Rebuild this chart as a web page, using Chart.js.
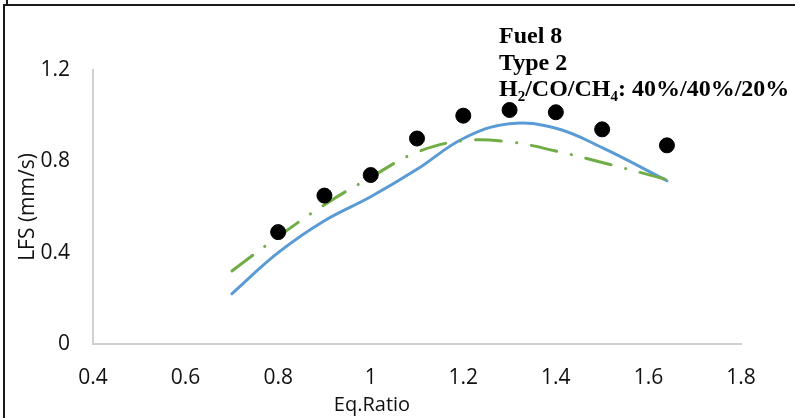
<!DOCTYPE html>
<html>
<head>
<meta charset="utf-8">
<script src="https://cdn.jsdelivr.net/npm/chart.js@4.4.1/dist/chart.umd.min.js"></script>
<style>
  html, body { margin: 0; padding: 0; background: #fff; }
  #wrap { width: 795px; height: 418px; position: relative; }
</style>
</head>
<body>
<div id="wrap"><canvas id="c" width="795" height="418"></canvas></div>
<script>
// ---- data ----
const eqRatioExp = [0.8, 0.9, 1.0, 1.1, 1.2, 1.3, 1.4, 1.5, 1.64];
const lfsExp     = [0.49, 0.65, 0.74, 0.90, 1.00, 1.025, 1.015, 0.94, 0.87];

const eqRatioModel = [0.7, 0.8, 0.9, 1.0, 1.1, 1.2, 1.3, 1.4, 1.5, 1.64];
const lfsModelBlue  = [0.22, 0.40, 0.54, 0.645, 0.765, 0.90, 0.965, 0.945, 0.86, 0.715];
const lfsModelGreen = [0.32, 0.47, 0.61, 0.73, 0.84, 0.89, 0.885, 0.845, 0.795, 0.72];

const xTicks = [0.4, 0.6, 0.8, 1, 1.2, 1.4, 1.6, 1.8];
const yTicks = [0, 0.4, 0.8, 1.2];

const xTitle = 'Eq.Ratio';
const yTitle = 'LFS (mm/s)';

const annotationLines = [
  [{t: 'Fuel 8'}],
  [{t: 'Type 2'}],
  [{t: 'H'}, {t: '2', sub: true}, {t: '/CO/CH'}, {t: '4', sub: true}, {t: ': 40%/40%/20%'}]
];

const toPts = (xs, ys) => xs.map((x, i) => ({x: x, y: ys[i]}));
const sansFamily = '"Open Sans", "Noto Sans", sans-serif';

const frameAndText = {
  id: 'frameAndText',
  afterDraw(chart) {
    const ctx = chart.ctx;
    ctx.save();
    // outer frame (left and top edges visible)
    ctx.strokeStyle = '#1a1a1a';
    ctx.lineWidth = 2;
    ctx.beginPath();
    ctx.moveTo(4, 418);
    ctx.lineTo(4, 5);
    ctx.lineTo(795, 5);
    ctx.stroke();
    ctx.beginPath();
    ctx.moveTo(7, 0);
    ctx.lineTo(7, 4);
    ctx.stroke();
    // x-axis title (placed off-centre as in the reference)
    ctx.fillStyle = '#111';
    ctx.font = '20px ' + sansFamily;
    ctx.textAlign = 'center';
    ctx.textBaseline = 'middle';
    ctx.fillText(xTitle, 372, 405);
    // annotation text
    ctx.fillStyle = '#000';
    ctx.textAlign = 'left';
    ctx.textBaseline = 'alphabetic';
    const baseSize = 24;
    const x0 = 499;
    const baselines = [43, 70, 96];
    annotationLines.forEach((segs, li) => {
      let x = x0;
      segs.forEach(s => {
        const size = s.sub ? 15 : baseSize;
        ctx.font = 'bold ' + size + 'px "Liberation Serif", "Times New Roman", serif';
        const y = baselines[li] + (s.sub ? 5 : 0);
        ctx.fillText(s.t, x, y);
        x += ctx.measureText(s.t).width;
      });
    });
    ctx.restore();
  }
};

const tickFont = {family: sansFamily, size: 21};

new Chart(document.getElementById('c'), {
  type: 'scatter',
  data: {
    datasets: [
      {
        label: 'Experiment',
        data: toPts(eqRatioExp, lfsExp),
        backgroundColor: '#000',
        borderColor: '#000',
        pointRadius: 7.5,
        pointHoverRadius: 7.5,
        showLine: false
      },
      {
        label: 'Model B',
        data: toPts(eqRatioModel, lfsModelGreen),
        borderColor: '#70AD47',
        backgroundColor: '#70AD47',
        borderWidth: 3,
        borderDash: [26, 15, 0.1, 15],
        borderCapStyle: 'round',
        pointRadius: 0,
        showLine: true,
        tension: 0.4
      },
      {
        label: 'Model A',
        data: toPts(eqRatioModel, lfsModelBlue),
        borderColor: '#5B9BD5',
        backgroundColor: '#5B9BD5',
        borderWidth: 3,
        borderCapStyle: 'round',
        pointRadius: 0,
        showLine: true,
        tension: 0.4
      }
    ]
  },
  options: {
    responsive: false,
    animation: false,
    layout: {padding: {left: 0, top: 70, right: 54, bottom: 0}},
    plugins: {legend: {display: false}, tooltip: {enabled: false}},
    scales: {
      x: {
        type: 'linear',
        min: 0.4, max: 1.8,
        afterBuildTicks(scale) { scale.ticks = xTicks.map(v => ({value: v})); },
        afterFit(scale) { scale.height = 74; },
        grid: {display: false, drawTicks: false},
        border: {display: true, color: '#D0D0D0', width: 2},
        ticks: {color: '#111', font: tickFont, padding: 21, maxRotation: 0,
                callback: v => String(v)},
        title: {display: false}
      },
      y: {
        type: 'linear',
        min: 0, max: 1.2,
        afterBuildTicks(scale) { scale.ticks = yTicks.map(v => ({value: v})); },
        afterFit(scale) { scale.width = 93; },
        grid: {display: false, drawTicks: false},
        border: {display: true, color: '#D0D0D0', width: 2},
        ticks: {color: '#111', font: tickFont, padding: 23,
                callback: v => String(v)},
        title: {display: true, text: yTitle, color: '#111',
                font: {family: sansFamily, size: 21},
                padding: {top: 15, bottom: 0}}
      }
    }
  },
  plugins: [frameAndText]
});
</script>
</body>
</html>
